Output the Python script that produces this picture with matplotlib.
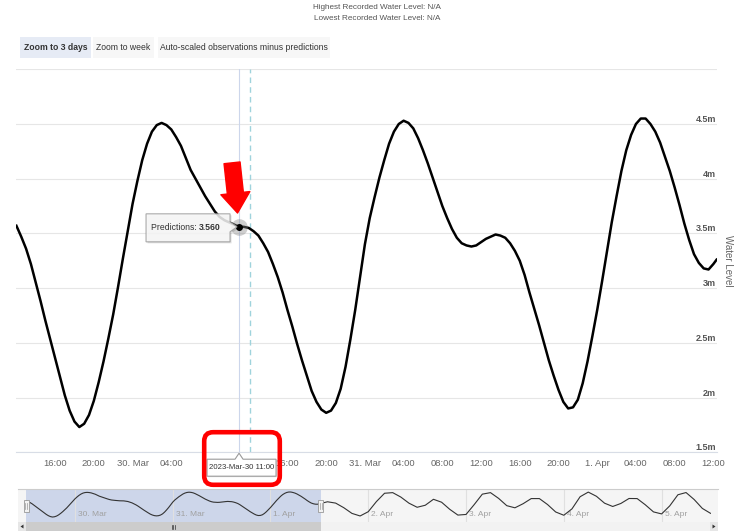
import pandas as pd
import matplotlib
matplotlib.use("Agg")
import matplotlib.pyplot as plt
import matplotlib.dates as mdates
import matplotlib.transforms as mtransforms
from matplotlib.patches import Rectangle, Polygon, FancyBboxPatch

plt.rcParams['font.family'] = ['Liberation Sans', 'DejaVu Sans']

W, H = 734, 531

# tide predictions (m), every 30 min from 2023-03-29 12:00, last point at 12:20 on 1 Apr
pred_start = "2023-03-29 12:00"
pred_values = [3.57, 3.47, 3.36, 3.22, 3.05, 2.88, 2.70, 2.53, 2.36, 2.19,
               2.02, 1.88, 1.78, 1.73, 1.76, 1.84, 1.97, 2.14, 2.33, 2.54,
               2.76, 3.01, 3.27, 3.52, 3.77, 3.98, 4.17, 4.32, 4.43, 4.49,
               4.51, 4.49, 4.45, 4.38, 4.30, 4.19, 4.08, 4.00, 3.92, 3.84,
               3.77, 3.70, 3.65, 3.62, 3.60, 3.58, 3.56, 3.56, 3.55, 3.52,
               3.48, 3.41, 3.33, 3.22, 3.10, 2.96, 2.80, 2.65, 2.49, 2.34,
               2.20, 2.06, 1.96, 1.89, 1.86, 1.88, 1.95, 2.08, 2.28, 2.53,
               2.80, 3.10, 3.40, 3.64, 3.83, 4.01, 4.17, 4.32, 4.43, 4.50,
               4.53, 4.51, 4.46, 4.37, 4.26, 4.14, 4.01, 3.88, 3.75, 3.64,
               3.54, 3.46, 3.41, 3.39, 3.38, 3.39, 3.42, 3.45, 3.47, 3.49,
               3.48, 3.46, 3.41, 3.34, 3.25, 3.12, 2.96, 2.81, 2.66, 2.50,
               2.34, 2.20, 2.07, 1.96, 1.90, 1.91, 1.98, 2.13, 2.33, 2.56,
               2.80, 3.06, 3.33, 3.60, 3.84, 4.07, 4.26, 4.40, 4.50, 4.55,
               4.55, 4.50, 4.43, 4.33, 4.20, 4.07, 3.92, 3.76, 3.59, 3.44,
               3.31, 3.23, 3.18, 3.17, 3.22]
pred_last_time = "2023-04-01 12:20"
pred_last_value = 3.26

# rest of the week shown only in the navigator, every 2 h from 2023-04-01 14:00
nav_start = "2023-04-01 14:00"
nav_end = "2023-04-05 12:00"
nav_values = [3.45, 3.30, 2.78, 2.14, 1.85, 2.33, 3.47, 4.41, 4.48, 3.98,
              3.29, 2.83, 3.06, 3.73, 3.40, 2.60, 1.95, 2.02, 3.13, 4.31,
              4.48, 3.83, 3.01, 2.77, 3.23, 3.81, 3.81, 3.14, 2.30, 1.93,
              2.65, 4.02, 4.54, 4.07, 3.29, 2.92, 3.26, 3.82, 3.81, 3.11,
              2.31, 2.08, 2.99, 4.24, 4.49, 3.70, 2.70, 2.15]

tip_time = "2023-03-30 11:00"
tip_value = 3.560
tip_label = "2023-Mar-30 11:00"
now_time = "2023-03-30 12:08"

y_ticks = [1.5, 2, 2.5, 3, 3.5, 4, 4.5, 5]
y_tick_labels = ["1.5m", "2m", "2.5m", "3m", "3.5m", "4m", "4.5m", ""]
x_tick_start = "2023-03-29 16:00"
# 08:00 and 12:00 on 30 Mar sit under the crosshair label
x_tick_labels = ["16:00", "20:00", "30. Mar", "04:00", "", "",
                 "16:00", "20:00", "31. Mar", "04:00", "08:00", "12:00",
                 "16:00", "20:00", "1. Apr", "04:00", "08:00", "12:00"]
nav_day_start = "2023-03-30"
nav_day_labels = ["30. Mar", "31. Mar", "1. Apr", "2. Apr", "3. Apr", "4. Apr", "5. Apr"]

pred_times = pd.date_range(pred_start, periods=len(pred_values), freq="30min")
pred_times = pred_times.append(pd.DatetimeIndex([pd.Timestamp(pred_last_time)]))
pred_all = pred_values + [pred_last_value]
nav_times = pred_times.append(pd.date_range(nav_start, periods=len(nav_values), freq="2h"))
nav_all = pred_all + nav_values

fig = plt.figure(figsize=(W / 100, H / 100), dpi=100)
fig.patch.set_facecolor("white")
# pixel coordinates, origin top-left
pix = mtransforms.Affine2D().scale(1 / W, -1 / H).translate(0, 1) + fig.transFigure


def px_axes(x0, y0, x1, y1):
    return fig.add_axes([x0 / W, 1 - y1 / H, (x1 - x0) / W, (y1 - y0) / H])


def px_rect(x0, y0, x1, y1, **kw):
    r = Rectangle((x0, y0), x1 - x0, y1 - y0, transform=pix, **kw)
    fig.add_artist(r)
    return r


# header
fig.text(377 / W, 1 - 7.5 / H, "Highest Recorded Water Level: N/A", ha="center", va="center",
         fontsize=5.9, color="#555555")
fig.text(377 / W, 1 - 18.5 / H, "Lowest Recorded Water Level: N/A", ha="center", va="center",
         fontsize=5.9, color="#555555")

buttons = [("Zoom to 3 days", 20, 91, "#e6ebf5", "bold"),
           ("Zoom to week", 93, 154, "#f7f7f7", "normal"),
           ("Auto-scaled observations minus predictions", 158, 330, "#f7f7f7", "normal")]
for label, bx0, bx1, bg, wt in buttons:
    px_rect(bx0, 37, bx1, 58, facecolor=bg, edgecolor="none", zorder=1)
    fig.text((bx0 + bx1) / 2 / W, 1 - 47.5 / H, label, ha="center", va="center",
             fontsize=6.2, color="#333333", fontweight=wt)

# main chart
ax = px_axes(16.4, 69.3, 716.6, 452.2)
ax.set_facecolor("none")
ax.plot(pred_times, pred_all, color="black", lw=1.8, solid_joinstyle="round", zorder=3)
ax.set_xlim(pd.Timestamp(pred_start), pd.Timestamp(pred_last_time))
ax.set_ylim(1.5, 5.0)
ax.set_yticks(y_ticks)
ax.yaxis.grid(True, color="#e6e6e6", lw=0.8)
ax.tick_params(axis="y", length=0, labelleft=False)
for s in ["top", "left", "right"]:
    ax.spines[s].set_visible(False)
ax.spines["bottom"].set_color("#d8dde6")
ax.spines["bottom"].set_linewidth(0.8)

tick_times = pd.date_range(x_tick_start, periods=len(x_tick_labels), freq="4h")
ax.set_xticks(tick_times)
ax.set_xticklabels(x_tick_labels, fontsize=6.8, color="#666666")
ax.tick_params(axis="x", length=0, pad=5)

ytr = mtransforms.blended_transform_factory(ax.transAxes, ax.transData)
for v, lab in zip(y_ticks, y_tick_labels):
    ax.text(0.9995, v, lab, transform=ytr, ha="right", va="bottom", fontsize=6.5,
            color="#555555", fontweight="bold")
fig.text(728 / W, 1 - 261 / H, "Water Level", rotation=270, ha="center", va="center",
         fontsize=7, color="#666666")

ax.axvline(pd.Timestamp(tip_time), color="#ccd6eb", lw=0.8, zorder=2)
ax.axvline(pd.Timestamp(now_time), color="#9fd3dc", lw=1.0, ls=(0, (4, 3)), zorder=2)

tt = pd.Timestamp(tip_time)
ax.plot([tt], [tip_value], "o", ms=12, color="#888888", alpha=0.4, mec="none", zorder=4)
ax.plot([tt], [tip_value], "o", ms=4, color="black", zorder=5)

ax.annotate("", xy=(tt, tip_value), xytext=(-7, 64), textcoords="offset pixels",
            arrowprops=dict(arrowstyle="simple,head_length=0.72,head_width=1.05,tail_width=0.58",
                            mutation_scale=20, color="red", shrinkA=0, shrinkB=10),
            zorder=6, annotation_clip=False)

# tooltip anchored on the hovered point
px_pt = ax.transData.transform((mdates.date2num(tt), tip_value))
qx, qy = px_pt[0], H - px_pt[1]
box = [(qx - 93, qy - 13), (qx - 9, qy - 13), (qx - 9, qy - 5), (qx - 2, qy),
       (qx - 9, qy + 5), (qx - 9, qy + 15), (qx - 93, qy + 15)]
fig.add_artist(Polygon([(x + 1.5, y + 1.5) for x, y in box], closed=True, transform=pix,
                       facecolor="#000000", alpha=0.12, edgecolor="none", zorder=5))
fig.add_artist(Polygon(box, closed=True, transform=pix, facecolor="#f9f9f9", alpha=0.85,
                       edgecolor="#9a9a9a", lw=0.8, zorder=6))
t1 = fig.text(0, 0, "Predictions: ", transform=pix, ha="left", va="center",
              fontsize=6.2, color="#333333", zorder=7)
t1.set_position((qx - 88, qy + 0.5))
fig.canvas.draw()
ext = t1.get_window_extent()
fig.text(ext.x1 / W, 1 - (qy + 0.5) / H, f"{tip_value:.3f}", ha="left", va="center",
         fontsize=6.2, color="#333333", fontweight="bold", zorder=7)

# x-axis crosshair label
ax_y = H - ax.transAxes.transform((0, 0))[1]
lbox = [(qx - 32, ax_y + 7), (qx - 4, ax_y + 7), (qx, ax_y + 1), (qx + 4, ax_y + 7),
        (qx + 37, ax_y + 7), (qx + 37, ax_y + 24), (qx - 32, ax_y + 24)]
fig.add_artist(Polygon([(x + 1, y + 1) for x, y in lbox], closed=True, transform=pix,
                       facecolor="#000000", alpha=0.12, edgecolor="none", zorder=5))
fig.add_artist(Polygon(lbox, closed=True, transform=pix, facecolor="white",
                       edgecolor="#9a9a9a", lw=0.8, zorder=6))
fig.text((qx + 2.5) / W, 1 - (ax_y + 15.5) / H, tip_label, ha="center", va="center",
         fontsize=5.6, color="#333333", zorder=7)

fig.add_artist(FancyBboxPatch((204.2, 432.2), 75.6, 52.6, boxstyle="round,pad=0,rounding_size=9",
                              transform=pix, fill=False, edgecolor="red", lw=3.3, zorder=8))

# navigator
px_rect(18, 489, 718, 522, facecolor="#f5f5f5", edgecolor="none", zorder=0)
nav = px_axes(26, 489, 710.5, 522)
nav.set_facecolor("none")
nav.set_xlim(pd.Timestamp(pred_start), pd.Timestamp(nav_end))
nav.set_ylim(1.17, 4.89)
nav.axvspan(pd.Timestamp(pred_start), pd.Timestamp(pred_last_time), color="#cdd6ea", lw=0, zorder=0)
days = pd.date_range(nav_day_start, periods=len(nav_day_labels), freq="D")
ntr = mtransforms.offset_copy(mtransforms.blended_transform_factory(nav.transData, nav.transAxes),
                              fig=fig, x=3, y=0, units="dots")
for d, lab in zip(days, nav_day_labels):
    nav.axvline(d, color="#e0e0e0", lw=0.8, zorder=1)
    nav.text(d, 0.24, lab, transform=ntr, ha="left", va="center", fontsize=6, color="#a0a0a0")
nav.plot(nav_times, nav_all, color="#333333", lw=0.8, zorder=3)
nav.set_xticks([])
nav.set_yticks([])
for s in nav.spines.values():
    s.set_visible(False)
fig.add_artist(plt.Line2D([18, 718], [489, 489], transform=pix, color="#cccccc", lw=0.8, zorder=2))

for t in [pd.Timestamp(pred_start), pd.Timestamp(pred_last_time)]:
    hx = nav.transData.transform((mdates.date2num(t), 0))[0]
    px_rect(hx - 2.5, 500, hx + 2.5, 512, facecolor="#f2f2f2", edgecolor="#999999", lw=0.6, zorder=4)
    for dx in (-0.8, 0.8):
        fig.add_artist(plt.Line2D([hx + dx, hx + dx], [503, 509], transform=pix,
                                  color="#999999", lw=0.5, zorder=5))

# scrollbar
x_lo = nav.transData.transform((mdates.date2num(pd.Timestamp(pred_start)), 0))[0]
x_hi = nav.transData.transform((mdates.date2num(pd.Timestamp(pred_last_time)), 0))[0]
px_rect(18, 522, 718, 531, facecolor="#f2f2f2", edgecolor="none", zorder=1)
px_rect(x_lo, 522, x_hi, 531, facecolor="#cccccc", edgecolor="none", zorder=2)
gx = (x_lo + x_hi) / 2
for dx in (-1.5, 0, 1.5):
    fig.add_artist(plt.Line2D([gx + dx, gx + dx], [524.5, 528.5], transform=pix,
                              color="#333333", lw=0.5, zorder=3))
px_rect(18, 522, 26, 531, facecolor="#e6e6e6", edgecolor="none", zorder=2)
px_rect(710, 522, 718, 531, facecolor="#e6e6e6", edgecolor="none", zorder=2)
fig.add_artist(Polygon([(23.5, 524.5), (23.5, 528.5), (20.5, 526.5)], closed=True, transform=pix,
                       facecolor="#333333", edgecolor="none", zorder=3))
fig.add_artist(Polygon([(712.5, 524.5), (712.5, 528.5), (715.5, 526.5)], closed=True, transform=pix,
                       facecolor="#333333", edgecolor="none", zorder=3))

fig.savefig("out.png", dpi=100)
